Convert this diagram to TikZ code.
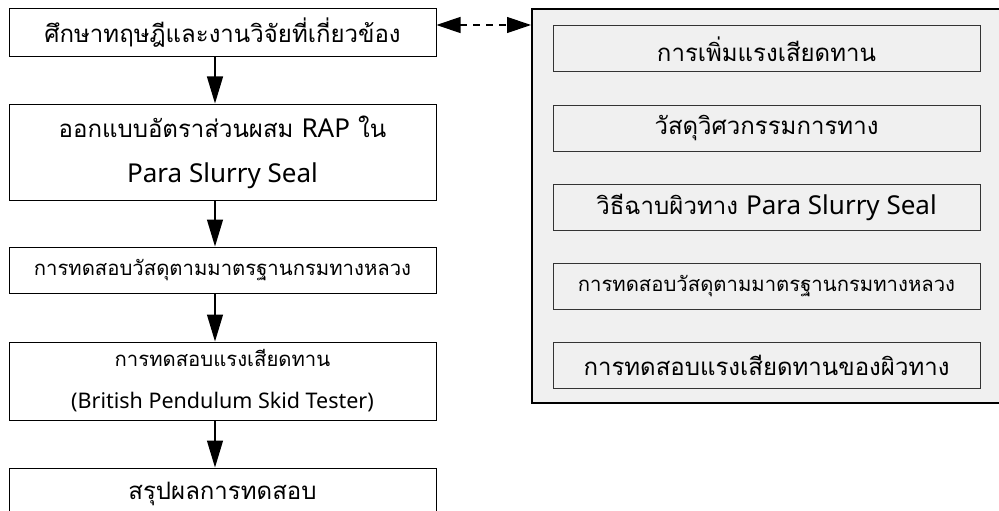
\documentclass[tikz,border=0pt]{standalone}
\usepackage{fontspec}
\setmainfont[Script=Thai]{Loma}
\newfontfamily\lat{Noto Sans}
\usetikzlibrary{arrows.meta}
\definecolor{panel}{HTML}{F0F0F0}
\definecolor{edge}{HTML}{333333}
\newcommand\biglat[1]{{\fontsize{26}{45}\lat #1}}
\newcommand\smalllat[1]{{\fontsize{21.5}{42}\lat #1}}
\tikzset{
  lbox/.style={draw=black, line width=1pt, fill=white, minimum width=427pt, inner sep=0pt, align=center},
  ibox/.style={draw=edge, line width=1pt, fill=panel, minimum width=427pt, minimum height=46pt, inner sep=0pt, align=center},
  big/.style={font=\fontsize{24}{45}\selectfont},
  small/.style={font=\fontsize{20.3}{42}\selectfont},
  flow/.style={line width=1.3pt, -{Triangle[length=27pt,width=16pt]}},
  link/.style={line width=1.2pt, dash pattern=on 7pt off 6pt, {Triangle[length=24pt,width=16pt]}-{Triangle[length=24pt,width=16pt]}}
}
\begin{document}
\begin{tikzpicture}[x=1pt,y=-1pt]
\useasboundingbox (0,0) rectangle (999,511);
% left column
\node[lbox, big, minimum height=48pt] (b1) at (222.5,33) {ศึกษาทฤษฎีและงานวิจัยที่เกี่ยวข้อง};
\node[lbox, big, minimum height=96pt] (b2) at (222.5,152) {ออกแบบอัตราส่วนผสม \biglat{RAP} ใน\\\biglat{Para Slurry Seal}};
\node[lbox, small, minimum height=46pt] (b3) at (222.5,270) {การทดสอบวัสดุตามมาตรฐานกรมทางหลวง};
\node[lbox, small, minimum height=78pt] (b4) at (222.5,381) {การทดสอบแรงเสียดทาน\\\smalllat{(British Pendulum Skid Tester)}};
\node[lbox, big, minimum height=52pt] (b5) at (222.5,494) {สรุปผลการทดสอบ};
% right panel
\node[draw=black, line width=2pt, fill=panel, minimum width=470pt, minimum height=394pt, inner sep=0pt] (outer) at (767,206) {};
\node[ibox, big] (r1) at (766.5,49) {การเพิ่มแรงเสียดทาน};
\node[ibox, big] (r2) at (766.5,128) {วัสดุวิศวกรรมการทาง};
\node[ibox, big] (r3) at (766.5,207) {วิธีฉาบผิวทาง \biglat{Para Slurry Seal}};
\node[ibox, small] (r4) at (766.5,286) {การทดสอบวัสดุตามมาตรฐานกรมทางหลวง};
\node[ibox, big] (r5) at (766.5,365) {การทดสอบแรงเสียดทานของผิวทาง};
% connectors
\coordinate (ax) at (215,0);
\coordinate (ay) at (0,25);
\draw[flow] (b1.south -| ax) -- (b2.north -| ax);
\draw[flow] (b2.south -| ax) -- (b3.north -| ax);
\draw[flow] (b3.south -| ax) -- (b4.north -| ax);
\draw[flow] (b4.south -| ax) -- (b5.north -| ax);
\draw[link] (b1.east |- ay) -- (outer.west |- ay);
\end{tikzpicture}
\end{document}
